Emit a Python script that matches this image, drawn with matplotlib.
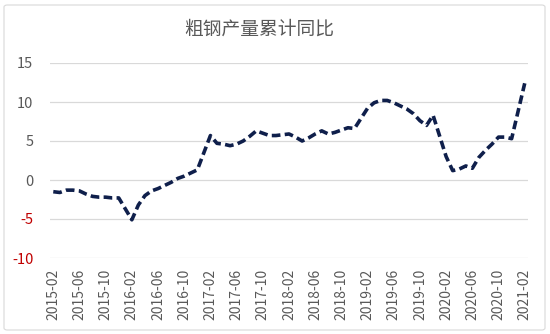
import matplotlib
matplotlib.use("Agg")
import matplotlib.pyplot as plt
import pandas as pd
from matplotlib.patches import FancyBboxPatch

plt.rcParams["font.family"] = ["Noto Sans CJK SC", "DejaVu Sans"]

# cumulative YoY of crude steel output (%), Jan is merged into Jan-Feb
months = [
    "2015-02", "2015-03", "2015-04", "2015-05", "2015-06", "2015-07", "2015-08",
    "2015-09", "2015-10", "2015-11", "2015-12",
    "2016-02", "2016-03", "2016-04", "2016-05", "2016-06", "2016-07", "2016-08",
    "2016-09", "2016-10", "2016-11", "2016-12",
    "2017-02", "2017-03", "2017-04", "2017-05", "2017-06", "2017-07", "2017-08",
    "2017-09", "2017-10", "2017-11", "2017-12",
    "2018-02", "2018-03", "2018-04", "2018-05", "2018-06", "2018-07", "2018-08",
    "2018-09", "2018-10", "2018-11", "2018-12",
    "2019-02", "2019-03", "2019-04", "2019-05", "2019-06", "2019-07", "2019-08",
    "2019-09", "2019-10", "2019-11", "2019-12",
    "2020-02", "2020-03", "2020-04", "2020-05", "2020-06", "2020-07", "2020-08",
    "2020-09", "2020-10", "2020-11", "2020-12",
    "2021-02",
]
yoy = [
    -1.5, -1.6, -1.3, -1.3, -1.4, -1.8, -2.1, -2.2, -2.2, -2.3, -2.3,
    -5.1, -3.2, -2.0, -1.4, -1.1, -0.7, -0.3, 0.2, 0.5, 0.9, 1.3,
    5.7, 4.7, 4.6, 4.4, 4.6, 5.0, 5.6, 6.3, 6.0, 5.7, 5.7,
    5.9, 5.5, 5.0, 5.4, 5.9, 6.3, 5.9, 6.1, 6.4, 6.7, 6.6,
    9.2, 9.9, 10.2, 10.2, 9.9, 9.5, 9.1, 8.5, 7.6, 7.0, 8.3,
    3.0, 1.2, 1.4, 1.8, 1.5, 2.9, 3.8, 4.6, 5.5, 5.5, 5.3,
    12.4,
]
tick_months = pd.period_range("2015-02", "2021-02", freq="4M").strftime("%Y-%m").tolist()
y_ticks = [-10, -5, 0, 5, 10, 15]

start = pd.Period("2015-02", freq="M")
x = [(pd.Period(m, freq="M") - start).n for m in months]
x_ticks = [(pd.Period(m, freq="M") - start).n for m in tick_months]

fig = plt.figure(figsize=(5.5, 3.34), dpi=100)
ax = fig.add_axes([50 / 550, 1 - 258 / 334, 478 / 550, 195 / 334])

# light frame round the whole chart
fig.patches.append(FancyBboxPatch((4 / 550, 4 / 334), 541 / 550, 325 / 334,
                                  boxstyle="round,pad=0,rounding_size=0.006",
                                  transform=fig.transFigure, fill=False,
                                  edgecolor="#d9d9d9", linewidth=0.8))

ax.plot(x, yoy, color="#0f1f4b", linewidth=2.6, dashes=(2.4, 1.2),
        solid_joinstyle="round", zorder=3)

ax.set_xlim(-0.5, x[-1] + 0.5)
ax.set_ylim(-10, 15)
ax.set_yticks(y_ticks)
ax.set_yticklabels([str(v) for v in y_ticks], fontsize=10.5)
for lab, v in zip(ax.get_yticklabels(), y_ticks):
    lab.set_color("#c00000" if v < 0 else "#595959")
ax.set_xticks(x_ticks)
ax.set_xticklabels(tick_months, rotation=90, fontsize=10, color="#595959")
ax.tick_params(axis="y", length=0, pad=12)
ax.tick_params(axis="x", length=0, pad=8)
ax.grid(axis="y", color="#d9d9d9", linewidth=0.9)
ax.set_axisbelow(True)
for s in ax.spines.values():
    s.set_visible(False)

fig.text(259 / 550, 1 - 29 / 334, "粗钢产量累计同比", ha="center", va="center",
         fontsize=13.5, color="#595959")

fig.savefig("out.png", dpi=100)
